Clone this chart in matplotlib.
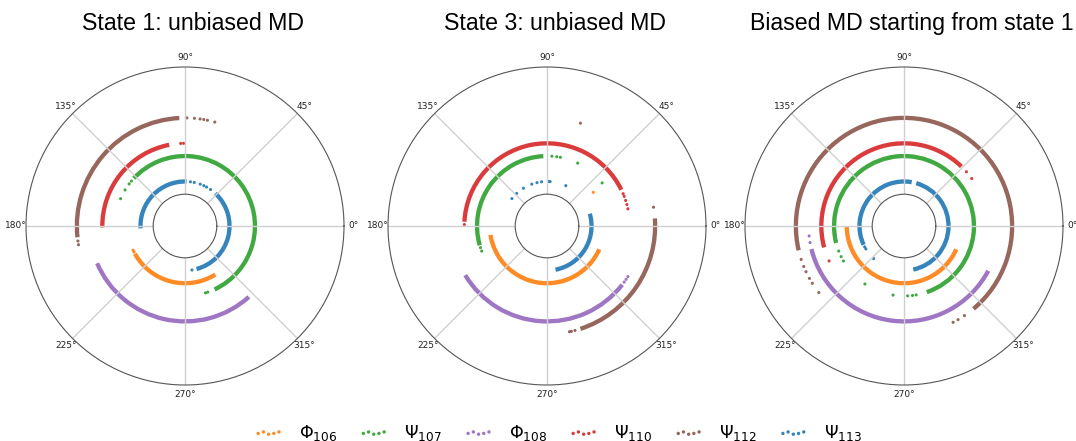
import numpy as np
import matplotlib
matplotlib.use("Agg")
import matplotlib.pyplot as plt

# ---------------- data ----------------
titles = ["State 1: unbiased MD", "State 3: unbiased MD", "Biased MD starting from state 1"]

series_labels = [r"$\Phi_{106}$", r"$\Psi_{107}$", r"$\Phi_{108}$",
                 r"$\Psi_{110}$", r"$\Psi_{112}$", r"$\Psi_{113}$"]
series_colors = ["#ff7f0e", "#2ca02c", "#9467bd", "#d62728", "#8c564b", "#1f77b4"]
# ring index (radial value) used for each dihedral
series_ring = [2, 3, 5, 4, 6, 1]

# dense angular ranges (deg, counter-clockwise start -> end) per panel, per series
arcs_state1 = [
    [(209, 302)],            # Phi106
    [(-65, 137)],            # Psi107
    [(203, 312)],            # Phi108
    [(101, 181)],            # Psi110
    [(93, 186)],             # Psi112
    [(-75, 47), (88, 183)],  # Psi113
]
arcs_state3 = [
    [(189, 336)],
    [(93, 196)],
    [(211, 322)],
    [(26, 177)],
    [(-72, 4)],
    [(-79, 16)],
]
arcs_biased = [
    [(181, 336)],
    [(-71, 194)],
    [(194, 332)],
    [(46, 195)],
    [(-50, 193)],
    [(-78, 74), (80, 205)],
]

# sparse isolated samples (deg) per panel, per series
pts_state1 = [
    [205, 207],
    [140, 143, 149, 157, 287, 289],
    [],
    [91, 93],
    [188, 190, 89, 85, 82, 80, 78, 74],
    [83, 78, 70, 65, 61, 55, -81],
]
pts_state3 = [
    [36],
    [86, 82, 79, 64, 38, 198, 201],
    [324, 326, 328],
    [12, 15, 18, 21, 23, 179],
    [-78, -77, -75, 10, 72],
    [65, 86, 88, 97, 103, 110, 122, 133, 142],
]
pts_biased = [
    [],
    [201, 206, 210, 236, 261, 273, 277, 280],
    [186, 190],
    [41, 35, 205],
    [198, 202, 205, 209, 212, 218, 304, 300, 297],
    [208, 211, 227],
]

panel_arcs = [arcs_state1, arcs_state3, arcs_biased]
panel_pts = [pts_state1, pts_state3, pts_biased]

# ---------------- figure ----------------
W, H = 1076, 441
fig = plt.figure(figsize=(W / 100, H / 100), dpi=100)

centers_x = [185, 547, 904]
cy = 215
R = 159
band = 0.34

for i in range(3):
    ax = fig.add_axes([(centers_x[i] - R) / W, (cy - R) / H, 2 * R / W, 2 * R / H],
                      projection="polar")
    for s in range(6):
        r = series_ring[s]
        c = series_colors[s]
        for (a0, a1) in panel_arcs[i][s]:
            mid = np.deg2rad((a0 + a1) / 2)
            span = np.deg2rad(a1 - a0)
            ax.bar(mid, band, width=span, bottom=r - band / 2, color=c,
                   alpha=0.9, edgecolor="none", align="center")
        if panel_pts[i][s]:
            th = np.deg2rad(np.array(panel_pts[i][s], dtype=float))
            ax.scatter(th, np.full(th.shape, r), s=5, color=c, alpha=0.9,
                       edgecolors="none")
    ax.set_ylim(0, 10)
    ax.set_rorigin(-2.5)
    ax.set_yticks([])
    ax.set_thetagrids(np.arange(0, 360, 45))
    ax.xaxis.grid(True, color="#d0d0d0", linewidth=1.0)
    ax.tick_params(axis="x", labelsize=6.5, colors="#222222", pad=0.0, length=0)
    for sp in ax.spines.values():
        sp.set_color("#555555")
        sp.set_linewidth(0.8)
    fig.text((centers_x[i] + 8) / W, 1 - 30 / H, titles[i],
             ha="center", va="baseline", fontsize=16.7, family="Liberation Sans")

handles = [plt.scatter([], [], s=6, color=series_colors[s], alpha=0.9,
                       edgecolors="none") for s in range(6)]
fig.legend(handles, series_labels, loc="center", bbox_to_anchor=(0.518, 1 - 433 / H),
           ncol=6, frameon=False, scatterpoints=5, fontsize=12.5,
           columnspacing=1.2, handletextpad=0.85, handlelength=1.8)

fig.savefig("out.png", dpi=100)
